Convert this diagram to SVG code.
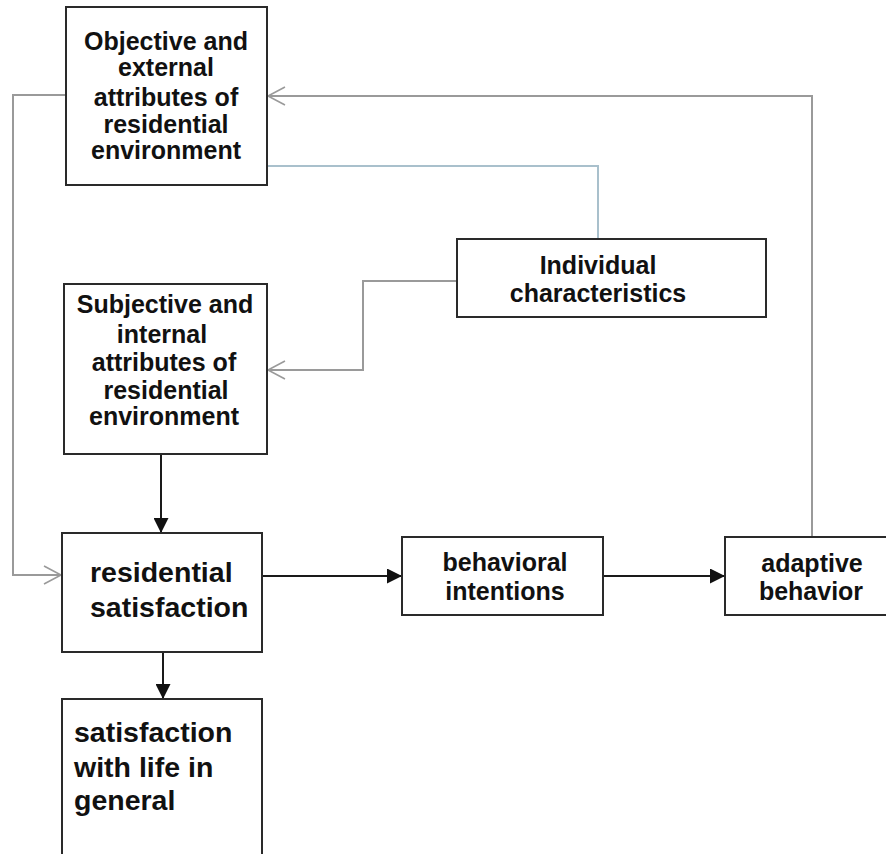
<svg xmlns="http://www.w3.org/2000/svg" width="886" height="854" viewBox="0 0 886 854">
<defs>
<style>
.box{fill:#fff;stroke:#2a2a2a;stroke-width:2}
.t{font-family:"Liberation Sans",Arial,sans-serif;font-weight:bold;fill:#111;font-size:25px}
.big{font-size:28.5px}
.c{text-anchor:middle}
.g{fill:none;stroke:#9a9a9a;stroke-width:2}
.bl{fill:none;stroke:#a9c0cc;stroke-width:2}
.k{fill:none;stroke:#1a1a1a;stroke-width:2}
</style>
<marker id="open" viewBox="0 0 20 20" refX="18" refY="10" markerWidth="20" markerHeight="20" markerUnits="userSpaceOnUse" orient="auto">
<path d="M1,1 L18,10 L1,19" fill="none" stroke="#9a9a9a" stroke-width="1.6"/>
</marker>
<marker id="fill" viewBox="0 0 15 15" refX="15" refY="7.5" markerWidth="15" markerHeight="15" markerUnits="userSpaceOnUse" orient="auto">
<path d="M0,0 L15,7.5 L0,15 Z" fill="#111"/>
</marker>
</defs>
<rect width="886" height="854" fill="#fff"/>
<g id="connectors">
<path class="g" d="M66,95 H13 V575 H61" marker-end="url(#open)"/>
<path class="g" d="M812,537 V96 H268" marker-end="url(#open)"/>
<path class="bl" d="M267,166 H598 V239"/>
<path class="g" d="M457,281 H363 V370 H268" marker-end="url(#open)"/>
<path class="k" d="M161,454 V533" marker-end="url(#fill)"/>
<path class="k" d="M262,576 H402" marker-end="url(#fill)"/>
<path class="k" d="M603,576 H725" marker-end="url(#fill)"/>
<path class="k" d="M163,652 V699" marker-end="url(#fill)"/>
</g>
<g id="objective">
<rect class="box" x="66" y="7" width="201" height="178"/>
<text class="t c" x="166" y="50">Objective and</text>
<text class="t c" x="166" y="76">external</text>
<text class="t c" x="166" y="106">attributes of</text>
<text class="t c" x="166" y="133">residential</text>
<text class="t c" x="166" y="159">environment</text>
</g>
<g id="individual">
<rect class="box" x="457" y="239" width="309" height="78"/>
<text class="t c" x="598" y="274">Individual</text>
<text class="t c" x="598" y="302">characteristics</text>
</g>
<g id="subjective">
<rect class="box" x="64" y="284" width="203" height="170"/>
<text class="t c" x="165" y="313">Subjective and</text>
<text class="t c" x="162" y="343">internal</text>
<text class="t c" x="164" y="371">attributes of</text>
<text class="t c" x="166" y="399">residential</text>
<text class="t c" x="164" y="425">environment</text>
</g>
<g id="residential">
<rect class="box" x="62" y="533" width="200" height="119"/>
<text class="t big" x="90" y="582">residential</text>
<text class="t big" x="90" y="617">satisfaction</text>
</g>
<g id="behavioral">
<rect class="box" x="402" y="537" width="201" height="78"/>
<text class="t c" x="505" y="571">behavioral</text>
<text class="t c" x="505" y="600">intentions</text>
</g>
<g id="adaptive">
<rect class="box" x="725" y="537" width="170" height="78"/>
<text class="t c" x="812" y="572">adaptive</text>
<text class="t c" x="811" y="600">behavior</text>
</g>
<g id="life">
<rect class="box" x="62" y="699" width="200" height="170"/>
<text class="t big" x="74" y="742">satisfaction</text>
<text class="t big" x="74" y="777">with life in</text>
<text class="t big" x="74" y="810">general</text>
</g>
</svg>
